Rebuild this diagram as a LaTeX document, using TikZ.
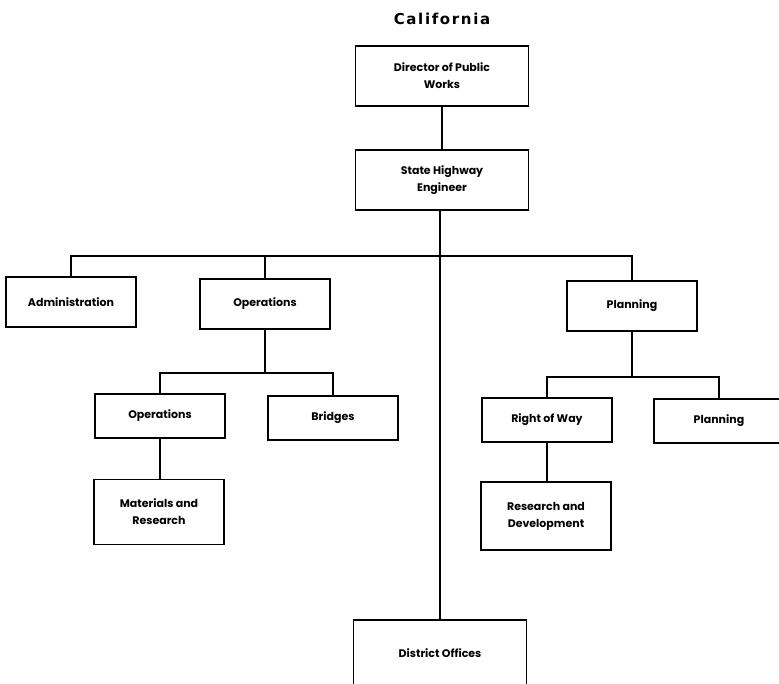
\documentclass[tikz,border=0pt]{standalone}
\usepackage{fontspec}
\setmainfont{Poppins}
\newfontfamily\titlefont[LetterSpace=11]{DejaVu Sans}
\usetikzlibrary{positioning}

\begin{document}
\begin{tikzpicture}[x=1pt,y=-1pt,line width=1.3pt,
  office/.style={draw,minimum width=130pt,minimum height=50pt,align=center,
    font=\fontsize{11}{17}\selectfont\bfseries,inner sep=2pt},
  subunit/.style={office,minimum height=44pt},
  head/.style={office,minimum width=173pt,minimum height=60pt}]

\useasboundingbox (0,0) rectangle (779,683);

\node (title) at (442,19) {\titlefont\bfseries\fontsize{15}{17}\selectfont California};

% top of the chart
\node[head] (dir) at (442,76)  {Director of Public\\Works};
\node[head] (she) at (442,180) {State Highway\\Engineer};
\node[head,minimum height=66pt] (dist) at (440,653) {District Offices};

% divisions
\coordinate (bus) at (0,256);
\node[office] (admin) at (71,302)  {Administration};
\node[office] (ops)   at (265,304) {Operations};
\node[office] (plan)  at (632,306) {Planning};

% under operations
\coordinate (opsbus) at (0,373);
\node[subunit] (opsub)   at (160,416) {Operations};
\node[subunit] (bridges) at (333,418) {Bridges};
\node[office,minimum height=65pt] (matres) at (159,512) {Materials and\\Research};

% under planning
\coordinate (planbus) at (0,377);
\node[subunit] (row)     at (547,420) {Right of Way};
\node[subunit] (plansub) at (719,421) {Planning};
\node[office,minimum height=68pt] (resdev) at (546,516) {Research and\\Development};

\draw (dir) -- (she);
\draw (she.south -| dist.north) -- (dist.north);
\draw (admin.north) -- (admin.north |- bus) -- (plan.north |- bus) -- (plan.north);
\draw (ops.north) -- (ops.north |- bus);

\draw (ops.south) -- (ops.south |- opsbus);
\draw (opsub.north) -- (opsub.north |- opsbus) -- (bridges.north |- opsbus) -- (bridges.north);
\draw (opsub) -- (opsub |- matres.north);

\draw (plan.south) -- (plan.south |- planbus);
\draw (row.north) -- (row.north |- planbus) -- (plansub.north |- planbus) -- (plansub.north);
\draw (row) -- (row |- resdev.north);

\end{tikzpicture}
\end{document}
